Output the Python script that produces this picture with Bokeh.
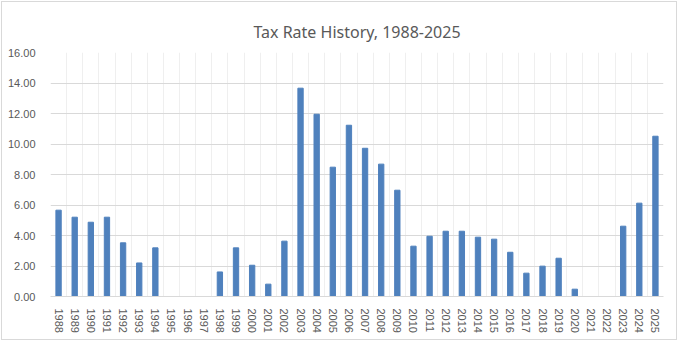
import numpy as np
from bokeh.plotting import figure
from bokeh.models import ColumnDataSource, FixedTicker, Range1d, NumeralTickFormatter
from bokeh.embed import file_html
from bokeh.resources import INLINE

years = [str(y) for y in range(1988, 2026)]
rates = [5.66, 5.20, 4.87, 5.20, 3.52, 2.20, 3.19, 0.0, 0.0, 0.0,
         1.61, 3.19, 2.05, 0.81, 3.63, 13.66, 11.95, 8.48, 11.23, 9.72,
         8.68, 6.97, 3.30, 3.95, 4.28, 4.28, 3.89, 3.76, 2.90, 1.53,
         1.99, 2.51, 0.48, 0.0, 0.0, 4.61, 6.12, 10.51]
y_ticks = [0, 2, 4, 6, 8, 10, 12, 14, 16]
title_text = "Tax Rate History, 1988-2025"

n = len(years)
xpos = [i + 0.5 for i in range(n)]
src = ColumnDataSource(dict(x=xpos, rate=rates, year=years))

p = figure(width=676, height=339, output_backend="svg", toolbar_location=None,
           x_range=Range1d(0, n), y_range=Range1d(0, 16), title=title_text)
p.styles = {"border": "1px solid #d9d9d9", "margin": "1px"}

p.title.align = "center"
p.title.text_font = "Noto Sans"
p.title.text_font_size = "16px"
p.title.text_font_style = "normal"
p.title.text_color = "#595959"
p.title.standoff = 19

p.min_border_left = 48
p.min_border_right = 15
p.min_border_top = 50
p.min_border_bottom = 45
p.outline_line_color = None
p.background_fill_color = "white"
p.border_fill_color = "white"

p.vbar(x="x", top="rate", width=0.33, source=src, color="#4f81bd")

# axes
p.xaxis.ticker = FixedTicker(ticks=xpos)
p.xaxis.major_label_overrides = {x: y for x, y in zip(xpos, years)}
p.xaxis.major_label_orientation = -np.pi / 2
p.xaxis.major_tick_line_color = None
p.xaxis.minor_tick_line_color = None
p.xaxis.axis_line_color = "#d9d9d9"
p.xaxis.major_label_text_font = "Liberation Sans"
p.xaxis.major_label_text_font_size = "11px"
p.xaxis.major_label_text_color = "#595959"
p.xaxis.major_label_standoff = 6

p.yaxis.ticker = FixedTicker(ticks=y_ticks)
p.yaxis.formatter = NumeralTickFormatter(format="0.00")
p.yaxis.major_tick_line_color = None
p.yaxis.minor_tick_line_color = None
p.yaxis.axis_line_color = None
p.yaxis.major_label_text_font = "Liberation Sans"
p.yaxis.major_label_text_font_size = "11px"
p.yaxis.major_label_text_color = "#595959"
p.yaxis.major_label_standoff = 9

# grids
p.ygrid.ticker = FixedTicker(ticks=y_ticks)
p.ygrid.grid_line_color = "#d9d9d9"
p.xgrid.ticker = FixedTicker(ticks=list(range(n + 1)))
p.xgrid.grid_line_color = "#efefef"

open("out.html", "w").write(file_html(p, INLINE))
